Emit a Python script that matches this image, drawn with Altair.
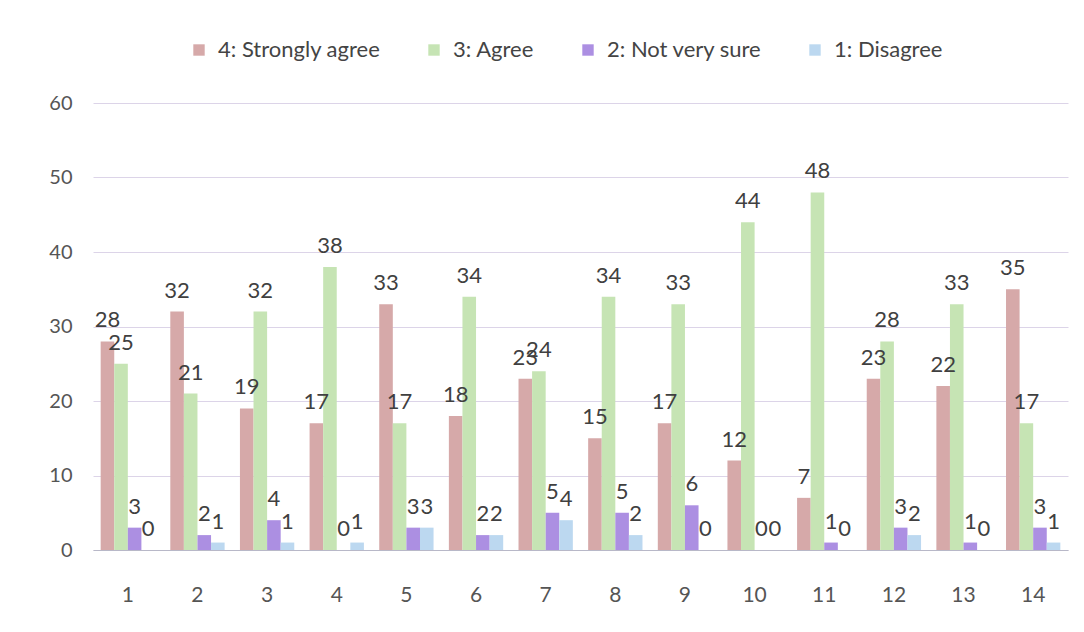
import altair as alt
import pandas as pd

groups = [str(i) for i in range(1, 15)]
series = ["4: Strongly agree", "3: Agree", "2: Not very sure", "1: Disagree"]
strongly_agree = [28, 32, 19, 17, 33, 18, 23, 15, 17, 12, 7, 23, 22, 35]
agree = [25, 21, 32, 38, 17, 34, 24, 34, 33, 44, 48, 28, 33, 17]
not_sure = [3, 2, 4, 0, 3, 2, 5, 5, 6, 0, 1, 3, 1, 3]
disagree = [0, 1, 1, 1, 3, 2, 4, 2, 0, 0, 0, 2, 0, 1]
colors = ["#D6A9A9", "#C6E4B4", "#AC8FE2", "#BCD8F0"]

rows = []
for vals, s in zip([strongly_agree, agree, not_sure, disagree], series):
    for g, v in zip(groups, vals):
        rows.append({"group": g, "series": s, "value": v})
df = pd.DataFrame(rows)

FONT = "Lato"

x = alt.X("group:N", sort=groups, title=None,
          scale=alt.Scale(paddingInner=0.22, paddingOuter=0.11),
          axis=alt.Axis(labelAngle=0, labelFontSize=21, labelColor="#555555",
                        labelFont=FONT, labelPadding=34, ticks=False,
                        domainColor="#b8b8c8", grid=False))
xo = alt.XOffset("series:N", sort=series)
y = alt.Y("value:Q", title=None,
          scale=alt.Scale(domain=[0, 60]),
          axis=alt.Axis(values=list(range(0, 61, 10)), labelFontSize=20,
                        labelColor="#555555", labelFont=FONT, labelPadding=21,
                        domain=False, ticks=False, gridColor="#dcd4e8"))

bars = alt.Chart(df).mark_bar().encode(
    x=x, xOffset=xo, y=y,
    color=alt.Color("series:N", sort=series,
                    scale=alt.Scale(domain=series, range=colors),
                    legend=alt.Legend(title=None, orient="none", direction="horizontal",
                                      legendX=95, legendY=-64, labelFontSize=22,
                                      labelFont=FONT, labelColor="#444444",
                                      labelLimit=400,
                                      symbolType="square", symbolSize=130,
                                      symbolStrokeWidth=0, columnPadding=42,
                                      labelOffset=8)),
)

labels = alt.Chart(df).mark_text(dy=-21, fontSize=22, font=FONT, color="#404040").encode(
    x=x, xOffset=xo, y=y, text="value:Q"
)

chart = (bars + labels).properties(
    width=975, height=447,
    padding={"left": 40, "right": 5, "top": 31, "bottom": 5},
).configure_view(stroke=None)

chart.save("out.html", embed_options={"renderer": "svg", "actions": False})
